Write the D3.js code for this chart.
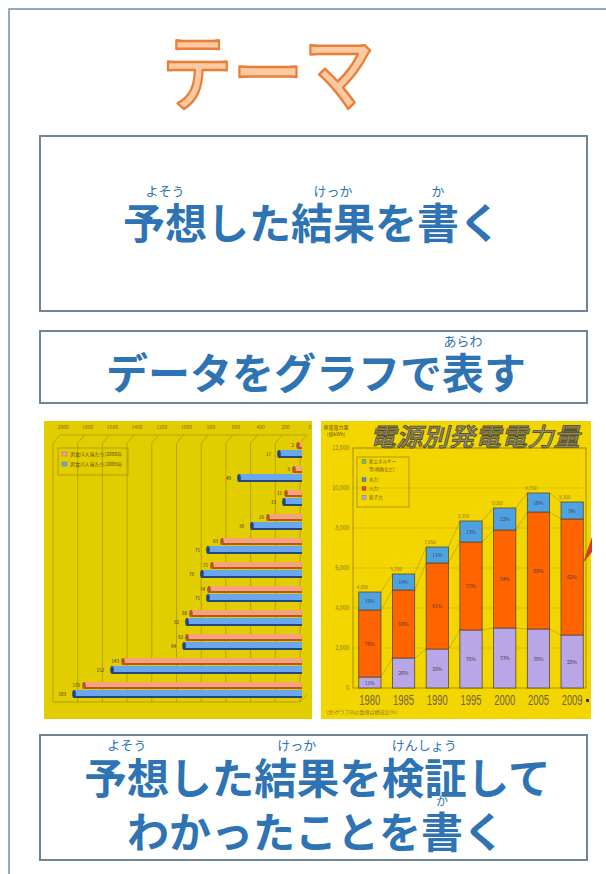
<!DOCTYPE html>
<html lang="ja">
<head>
<meta charset="utf-8">
<script src="https://cdn.jsdelivr.net/npm/d3@7"></script>
<style>
  html, body { margin: 0; padding: 0; background: #fff; }
  svg { display: block; }
  .jp { font-family: "Noto Sans CJK JP", "Noto Sans", sans-serif; }
</style>
</head>
<body>
<div id="page"></div>
<script>
// ---- data ----
const leftTicks = [2000, 1800, 1600, 1400, 1200, 1000, 800, 600, 400, 200, 0];
const leftOrange = [16, 49, 113, 259, 632, 713, 737, 883, 915, 1433, 1749];
const leftBlue = [170, 494, 130, 389, 745, 794, 745, 915, 939, 1522, 1830];
const leftLegend = ["男女(1人当たり)2000年", "男女(1人当たり)2009年"];

const years = ["1980", "1985", "1990", "1995", "2000", "2005", "2009"];
const nuclear = [550, 1500, 1950, 2900, 3000, 2950, 2650];
const thermal = [3350, 3400, 4300, 4400, 4900, 5850, 5800];
const hydro = [900, 800, 800, 1050, 1100, 950, 850];
const rightTicks = [0, 2000, 4000, 6000, 8000, 10000, 12000];
const rightLegend = ["新エネルギー", "水力", "火力", "原子力"];

const W = 606, H = 874;
const blue = "#2e74b5";
const boxStroke = "#6f8496";

const svg = d3.select("#page").append("svg")
    .attr("width", W).attr("height", H)
    .attr("viewBox", `0 0 ${W} ${H}`);

// outer frame
svg.append("path")
    .attr("d", `M9,${H} L9,9 L${W},9`)
    .attr("fill", "none").attr("stroke", "#7090aa").attr("stroke-width", 1.5);

// title
svg.append("g").attr("transform", "translate(268,104) scale(1,1.18)")
  .append("text").attr("class", "jp")
    .attr("x", 0).attr("y", 0)
    .attr("text-anchor", "middle")
    .attr("font-size", 71).attr("font-weight", 500)
    .attr("fill", "#fbc9a2").attr("stroke", "#e8803a").attr("stroke-width", 2.2)
    .attr("stroke-linejoin", "round")
    .text("テーマ");

// boxes
[[40, 136, 547, 175], [40, 331, 547, 72], [40, 735, 547, 125]].forEach(b => {
    svg.append("rect").attr("x", b[0]).attr("y", b[1]).attr("width", b[2]).attr("height", b[3])
        .attr("fill", "#fff").attr("stroke", boxStroke).attr("stroke-width", 2);
});

// text line with furigana, full-width glyphs => 1em advance
function rubyLine(text, cx, baseline, fs, rubies, rubyLift, rubySize) {
    const n = [...text].length;
    const x0 = cx - n * fs / 2;
    svg.append("text").attr("class", "jp")
        .attr("x", x0).attr("y", baseline)
        .attr("font-size", fs).attr("font-weight", 700).attr("fill", blue)
        .text(text);
    rubies.forEach(r => {
        svg.append("text").attr("class", "jp")
            .attr("x", x0 + (r.start + r.len / 2) * fs)
            .attr("y", baseline - (rubyLift || fs * 1.03))
            .attr("text-anchor", "middle")
            .attr("font-size", rubySize || 13).attr("fill", blue)
            .text(r.text);
    });
}

rubyLine("予想した結果を書く", 312, 239, 42,
    [{start: 0, len: 2, text: "よそう"}, {start: 4, len: 2, text: "けっか"}, {start: 7, len: 1, text: "か"}]);
rubyLine("データをグラフで表す", 316, 389, 42,
    [{start: 8, len: 1, text: "あらわ"}]);
rubyLine("予想した結果を検証して", 318, 794, 42.5,
    [{start: 0, len: 2, text: "よそう"}, {start: 4, len: 2, text: "けっか"}, {start: 7, len: 2, text: "けんしょう"}]);
rubyLine("わかったことを書く", 316, 848, 42,
    [{start: 7, len: 1, text: "か"}], 42, 12);

// ---------- left chart: horizontal 3D bars ----------
const L = svg.append("g");
L.append("rect").attr("x", 44).attr("y", 421).attr("width", 268).attr("height", 298).attr("fill", "#e2cd00");

const lx = d3.scaleLinear().domain([0, 2000]).range([300, 53]);
const ly = d3.scaleBand().domain(d3.range(leftOrange.length)).range([438, 702]);
const gridC = "#a89400";
const depth = 7;

L.append("line").attr("x1", lx(2000) + depth).attr("x2", lx(0) + depth).attr("y1", 435).attr("y2", 435)
    .attr("stroke", gridC).attr("stroke-width", 0.7);
leftTicks.forEach(v => {
    L.append("line").attr("x1", lx(v)).attr("x2", lx(v)).attr("y1", 443).attr("y2", 702)
        .attr("stroke", gridC).attr("stroke-width", 0.7);
    L.append("line").attr("x1", lx(v)).attr("x2", lx(v) + depth).attr("y1", 443).attr("y2", 435)
        .attr("stroke", gridC).attr("stroke-width", 0.7);
    L.append("text").attr("class", "jp").attr("x", lx(v) + 10).attr("y", 429)
        .attr("text-anchor", "middle").attr("font-size", 5).attr("fill", "#857200").text(v);
});
L.append("line").attr("x1", lx(2000)).attr("x2", lx(0)).attr("y1", 702).attr("y2", 702)
    .attr("stroke", gridC).attr("stroke-width", 0.8);
L.append("line").attr("x1", lx(0)).attr("x2", lx(0) + depth).attr("y1", 702).attr("y2", 695)
    .attr("stroke", gridC).attr("stroke-width", 0.8);

function bar3d(v, y, h, fill, dark, labelDx) {
    const x1 = lx(v), x2 = lx(0) + 2;
    L.append("rect").attr("x", x1).attr("y", y).attr("width", x2 - x1).attr("height", h).attr("fill", fill);
    L.append("rect").attr("x", x1).attr("y", y + h - 2).attr("width", x2 - x1).attr("height", 2).attr("fill", dark);
    L.append("ellipse").attr("cx", x1).attr("cy", y + h / 2).attr("rx", 1.8).attr("ry", h / 2).attr("fill", dark);
    L.append("text").attr("class", "jp").attr("x", x1 - 4 - labelDx).attr("y", y + h / 2 + 1.8)
        .attr("text-anchor", "end").attr("font-size", 4.5).attr("fill", "#333")
        .text(Math.round(v / 10));
}
leftOrange.forEach((v, i) => {
    bar3d(v, ly(i) + 4, 7, "#f6a27c", "#b4552a", 0);
    bar3d(leftBlue[i], ly(i) + 12, 8, "#6aa8ee", "#24457e", 4);
});

// legend
L.append("rect").attr("x", 58).attr("y", 448).attr("width", 70).attr("height", 27)
    .attr("fill", "none").attr("stroke", gridC).attr("stroke-width", 0.8);
leftLegend.forEach((t, i) => {
    L.append("rect").attr("x", 62).attr("y", 452 + i * 10).attr("width", 5).attr("height", 4)
        .attr("fill", i ? "#6aa8ee" : "#f6a27c").attr("stroke", "#555").attr("stroke-width", 0.3);
    L.append("text").attr("class", "jp").attr("x", 70).attr("y", 456 + i * 10)
        .attr("font-size", 5).attr("fill", "#5a5000").text(t);
});

// ---------- right chart: stacked columns ----------
const R = svg.append("g");
R.append("rect").attr("x", 321).attr("y", 421).attr("width", 270).attr("height", 298).attr("fill", "#f3d600");

const ry = d3.scaleLinear().domain([0, 12000]).range([688, 448]);
const rx = d3.scaleBand().domain(years).range([352, 590]).paddingInner(0.34).paddingOuter(0.2);
const axisC = "#a08a00";

rightTicks.forEach(v => {
    if (v > 0) R.append("line").attr("x1", 353).attr("x2", 586).attr("y1", ry(v)).attr("y2", ry(v))
        .attr("stroke", "#d2b400").attr("stroke-width", 0.7);
    R.append("text").attr("class", "jp").attr("x", 349).attr("y", ry(v) + 2)
        .attr("text-anchor", "end").attr("font-size", 5.5).attr("fill", "#8a7a20")
        .text(d3.format(",")(v));
});
R.append("rect").attr("x", 353).attr("y", 448).attr("width", 233).attr("height", 240)
    .attr("fill", "none").attr("stroke", axisC).attr("stroke-width", 0.9);
R.append("text").attr("class", "jp").attr("x", 336).attr("y", 429).attr("text-anchor", "middle")
    .attr("font-size", 5).attr("fill", "#6a5a10").text("発電電力量");
R.append("text").attr("class", "jp").attr("x", 336).attr("y", 436).attr("text-anchor", "middle")
    .attr("font-size", 5).attr("fill", "#6a5a10").text("(億kWh)");

R.append("text").attr("class", "jp")
    .attr("x", 474).attr("y", 446).attr("text-anchor", "middle")
    .attr("font-size", 25).attr("font-weight", 500)
    .attr("fill", "#8e8a72").attr("stroke", "#45412a").attr("stroke-width", 0.7)
    .attr("transform", "skewX(-14) translate(112,0)")
    .attr("textLength", 210).attr("lengthAdjust", "spacingAndGlyphs")
    .text("電源別発電電力量");

const stacks = years.map((y, i) => {
    const n = nuclear[i], t = thermal[i], h = hydro[i];
    return {year: y, total: n + t + h, segs: [
        {y0: 0, y1: n, v: n, fill: "#b9a6e6"},
        {y0: n, y1: n + t, v: t, fill: "#ff6400"},
        {y0: n + t, y1: n + t + h, v: h, fill: "#4ea2e2"}
    ]};
});

// series lines between columns
[0, 1, 2].forEach(k => {
    for (let i = 0; i < stacks.length - 1; i++) {
        R.append("line")
            .attr("x1", rx(stacks[i].year) + rx.bandwidth()).attr("y1", ry(stacks[i].segs[k].y1))
            .attr("x2", rx(stacks[i + 1].year)).attr("y2", ry(stacks[i + 1].segs[k].y1))
            .attr("stroke", "#b89a30").attr("stroke-width", 0.7);
    }
});

stacks.forEach(s => {
    s.segs.forEach(g => {
        R.append("rect").attr("x", rx(s.year)).attr("y", ry(g.y1))
            .attr("width", rx.bandwidth()).attr("height", ry(g.y0) - ry(g.y1))
            .attr("fill", g.fill).attr("stroke", "#5a4a2a").attr("stroke-width", 0.8);
        R.append("text").attr("class", "jp")
            .attr("x", rx(s.year) + rx.bandwidth() / 2).attr("y", (ry(g.y0) + ry(g.y1)) / 2 + 2)
            .attr("text-anchor", "middle").attr("font-size", 5).attr("fill", "#4a3a4a")
            .text(Math.round(g.v / s.total * 100) + "%");
    });
    R.append("text").attr("class", "jp")
        .attr("x", rx(s.year) - 2).attr("y", ry(s.total) - 3)
        .attr("font-size", 4.5).attr("fill", "#8a7020")
        .text(d3.format(",")(s.total));
    R.append("text").attr("font-family", "Liberation Sans, sans-serif")
        .attr("x", rx(s.year) + rx.bandwidth() / 2 - 10.5).attr("y", 705)
        .attr("font-size", 14).attr("fill", "#6e6448")
        .attr("textLength", 21).attr("lengthAdjust", "spacingAndGlyphs")
        .text(s.year);
});
R.append("rect").attr("x", 586).attr("y", 699).attr("width", 3).attr("height", 3).attr("fill", "#333");

// legend
R.append("rect").attr("x", 357).attr("y", 457).attr("width", 52).attr("height", 50)
    .attr("fill", "none").attr("stroke", axisC).attr("stroke-width", 0.8);
const legFill = ["#6fbf6f", "#4e8fb8", "#e05000", "#b9a6e6"];
const legY = [463, 481, 490, 499];
rightLegend.forEach((t, i) => {
    R.append("rect").attr("x", 362).attr("y", legY[i] - 3.5).attr("width", 4).attr("height", 4)
        .attr("fill", legFill[i]).attr("stroke", "#555").attr("stroke-width", 0.3);
    R.append("text").attr("class", "jp").attr("x", 369).attr("y", legY[i])
        .attr("font-size", 4.5).attr("fill", "#6a5a10").text(t);
});
R.append("text").attr("class", "jp").attr("x", 369).attr("y", 471)
    .attr("font-size", 4.5).attr("fill", "#6a5a10").text("等(地熱など)");

R.append("text").attr("class", "jp").attr("x", 326).attr("y", 714)
    .attr("font-size", 5).attr("fill", "#8a7a30").text("(注)グラフ内の数値は構成比(%)");

// red tab on the right edge
R.append("polygon").attr("points", "583,563 592,537 592,552").attr("fill", "#d43a2a");
</script>
</body>
</html>
